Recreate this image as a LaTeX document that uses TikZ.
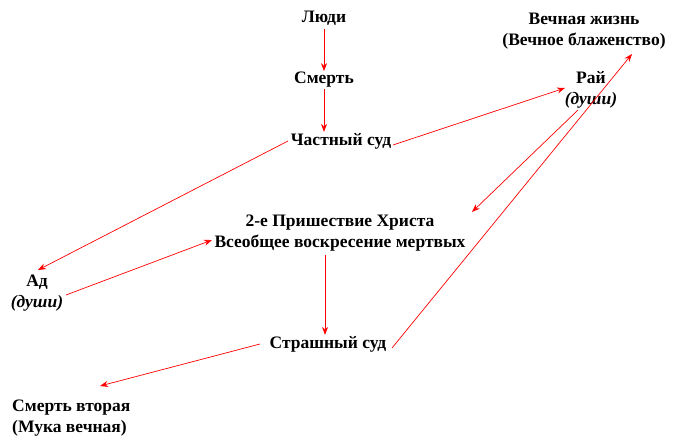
\documentclass[tikz,border=0pt]{standalone}
\usepackage{fontspec}
\setmainfont{Liberation Serif}
\usetikzlibrary{arrows.meta}
\begin{document}
\begin{tikzpicture}[x=1pt,y=-1pt,
  lbl/.style={font=\fontsize{17.5}{21}\selectfont\bfseries,inner sep=1pt},
  arr/.style={red,line width=0.7pt,-{Stealth[length=8pt,width=6pt]}}]
\useasboundingbox (0,0) rectangle (680,446);
\node[lbl] (ludi) at (324,18) {Люди};
\node[lbl] (smert) at (324,80) {Смерть};
\node[lbl] (chast) at (341,141) {Частный суд};
\node[lbl,align=center] (vech) at (584,31) {Вечная жизнь\\(Вечное блаженство)};
\node[lbl,align=center] (rai) at (591,90) {Рай\\\textit{(души)}};
\node[lbl,align=center] (vtor) at (340,233) {2-е Пришествие Христа\\Всеобщее воскресение мертвых};
\node[lbl,align=center] (ad) at (37,293) {Ад\\\textit{(души)}};
\node[lbl] (strash) at (328,344) {Страшный суд};
\node[lbl,align=left,anchor=west] (smv) at (11,418) {Смерть вторая\\(Мука вечная)};
\coordinate (c1) at (324,29);
\draw[arr] (c1) -- (smert.north);
\draw[arr] (smert.south) -- (chast.north -| smert);
\draw[arr] (393,145) -- (565,88);
\draw[arr] (288,141) -- (38,270);
\draw[arr] (66,295) -- (212,240);
\draw[arr] (578,110) -- (472,212);
\draw[arr] (325,255) -- (strash.north -| 325,0);
\draw[arr] (392,348) -- (632,54);
\draw[arr] (260,344) -- (100,386);
\end{tikzpicture}
\end{document}
